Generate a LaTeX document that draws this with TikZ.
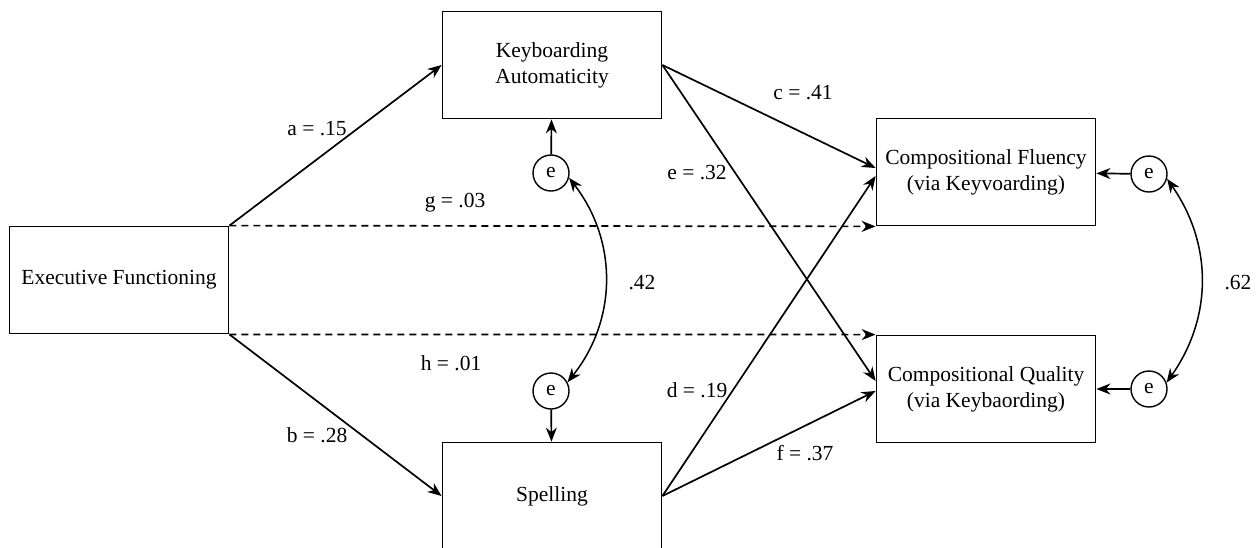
\documentclass[tikz,border=0pt]{standalone}
\usepackage{fontspec}
\setmainfont{Liberation Serif}
\usetikzlibrary{arrows.meta}

\begin{document}
\begin{tikzpicture}[
  x=1pt,y=-1pt,font=\fontsize{21.5}{26}\selectfont,
  var/.style={draw,line width=1.8pt,minimum width=219pt,minimum height=107pt,
    inner sep=0pt,align=center},
  err/.style={draw,circle,line width=1.4pt,minimum size=36pt,inner sep=0pt},
  path/.style={-{Stealth[length=14pt,width=11pt]},line width=1.7pt},
  direct/.style={path,dash pattern=on 7pt off 5pt},
  covar/.style={{Stealth[length=14pt,width=11pt]}-{Stealth[length=14pt,width=11pt]},
    line width=1.5pt},
]
\useasboundingbox (0,0) rectangle (1260,547);

% variables
\node[var] (EF) at (119,280) {Executive Functioning};
\node[var] (KA) at (552,65) {Keyboarding\\Automaticity};
\node[var] (SP) at (552,496) {Spelling};
\node[var] (CF) at (986,172) {Compositional Fluency\\(via Keyvoarding)};
\node[var] (CQ) at (986,389) {Compositional Quality\\(via Keybaording)};

% residuals
\node[err] (eKA) at (551,173) {e};
\node[err] (eSP) at (551,391) {e};
\node[err] (eCF) at (1149,174) {e};
\node[err] (eCQ) at (1149,389) {e};

% paths
\draw[path] (EF.north east) -- (KA.west);
\draw[path] (EF.south east) -- (SP.west);
\draw[direct] (EF.north east) -- (CF.south west);
\draw[direct] (EF.south east) -- (CQ.north west);
\draw[path] (KA.east) -- ([yshift=4pt]CF.west);
\draw[path] (KA.east) -- ([yshift=8pt]CQ.west);
\draw[path] (SP.east) -- ([yshift=-4pt]CF.west);
\draw[path] (SP.east) -- ([yshift=-2pt]CQ.west);

\draw[path] (eKA) -- (KA);
\draw[path] (eSP) -- (SP);
\draw[path] (eCF) -- (CF);
\draw[path] (eCQ) -- (CQ);
\draw[covar] (eKA.-15) to[bend left=38] (eSP.28);
\draw[covar] (eCF.-15) to[bend left=35] (eCQ.20);

% coefficients
\node (lblA) at (317,129) {a = .15};
\node (lblG) at (455,203) {g = .03};
\node (lblB) at (317,435) {b = .28};
\node (lblH) at (451,363) {h = .01};
\node (lblC) at (803,93) {c = .41};
\node (lblE) at (697,173) {e = .32};
\node (lblD) at (697,390) {d = .19};
\node (lblF) at (805,453) {f = .37};
\node (lblKS) at (642,283) {.42};
\node (lblFQ) at (1238,283) {.62};
\end{tikzpicture}
\end{document}
